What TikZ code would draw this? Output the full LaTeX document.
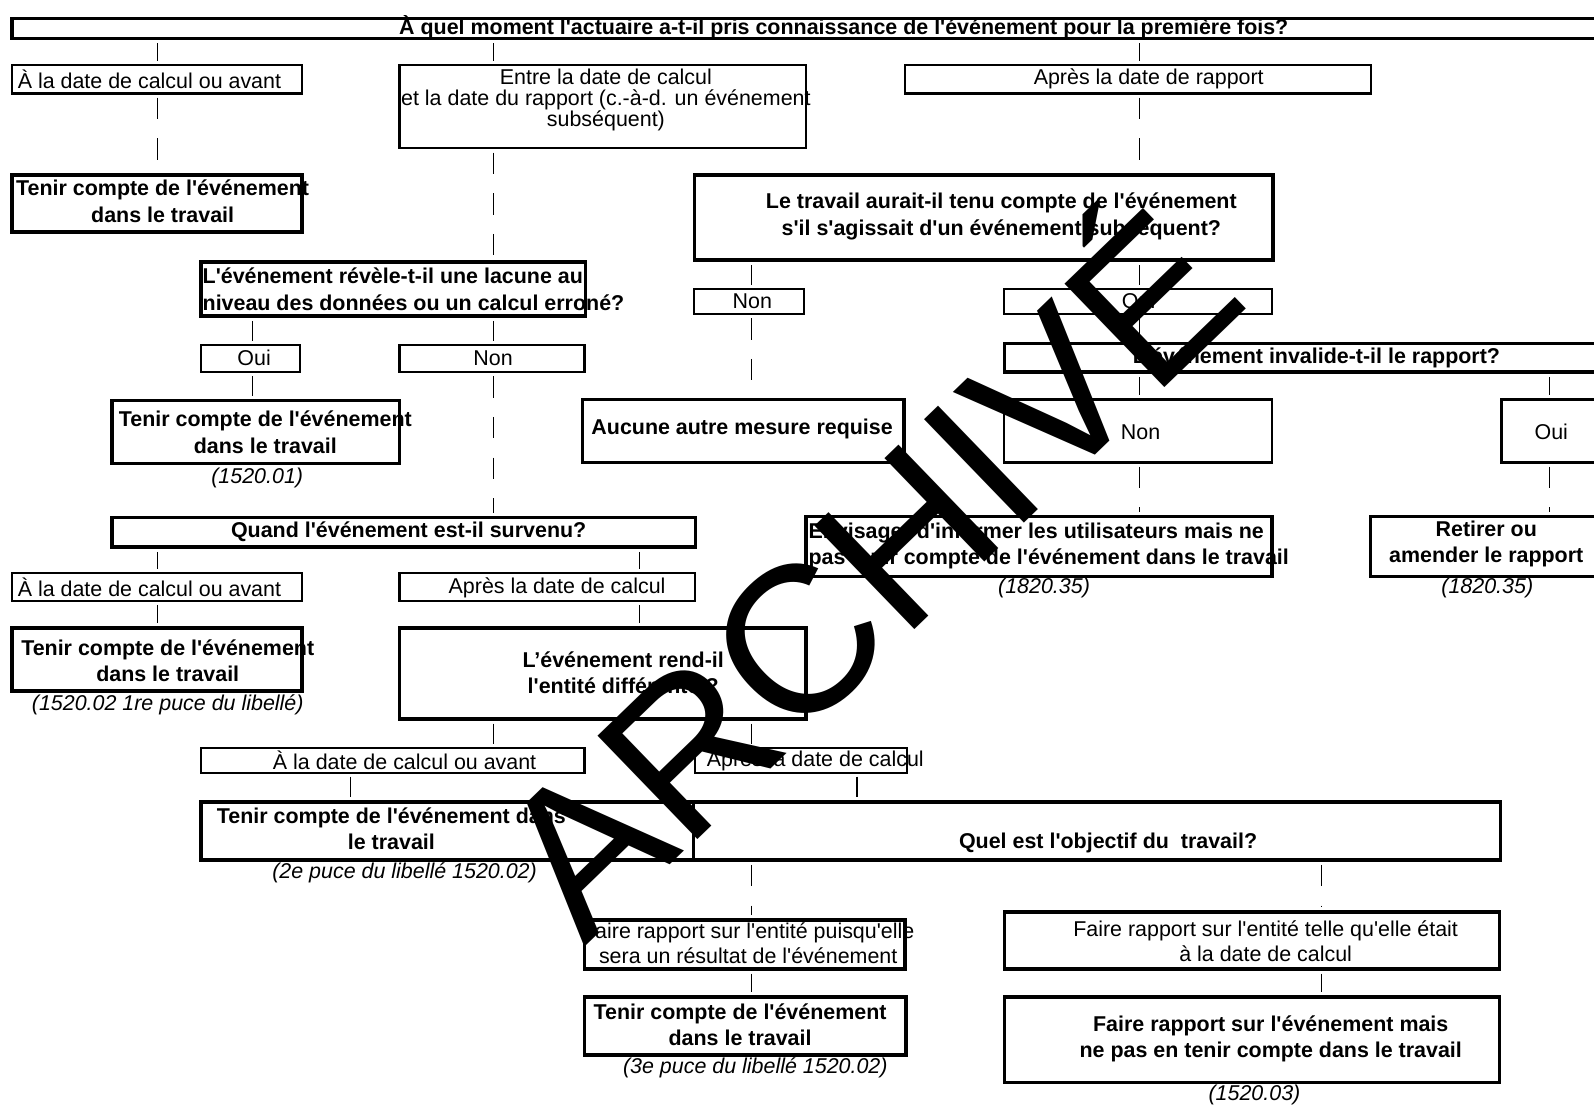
\documentclass[tikz,border=0pt]{standalone}
\usepackage{fontspec}
\newfontfamily\arialfont{Liberation Sans}

\tikzset{
  box/.style={draw, line width=1.2pt, inner sep=0pt},
  bigbox/.style={draw, line width=2pt, inner sep=0pt},
  wh/.style 2 args={minimum width=#1*0.02cm, minimum height=#2*0.02cm},
  txt/.style={inner sep=0pt, align=center, font=\arialfont\fontsize{12}{14.8}\selectfont},
  btxt/.style={txt, font=\arialfont\fontsize{12}{14.8}\selectfont\bfseries},
  ref/.style={inner sep=0pt, font=\arialfont\fontsize{12}{14.8}\selectfont\itshape},
  link/.style={line width=0.6pt, shorten <=0.06cm, shorten >=0.06cm, dash pattern=on 0.42cm off 0.38cm},
}

\begin{document}
\begin{tikzpicture}[x=0.02cm, y=-0.02cm]
\useasboundingbox (0,0) rectangle (1568,1091);

% colonnes des liens
\coordinate (colA) at (155,0);
\coordinate (colOui) at (248,0);
\coordinate (colF) at (345,0);
\coordinate (colNon) at (485,0);
\coordinate (colC) at (629,0);
\coordinate (colG) at (739,0);
\coordinate (colE) at (843,0);
\coordinate (colR) at (1121,0);
\coordinate (colH) at (1300,0);
\coordinate (colI) at (1524,0);

% boites
\node[bigbox, wh={1568}{20}] (top) at (796,28) {};
\node[box, wh={285}{28}] (a1) at (154.5,78) {};
\node[box, wh={400}{82}] (a2) at (593,105) {};
\node[box, wh={459}{28}] (a3) at (1119.5,78) {};
\node[bigbox, wh={285}{56}] (b1) at (154.5,200) {};
\node[bigbox, wh={378}{53}] (q2) at (387,284.5) {};
\node[bigbox, wh={569}{84}] (q3) at (967.5,214) {};
\node[box, wh={97}{27}] (oui2) at (246.5,352.5) {};
\node[box, wh={182}{27}] (nq2) at (484,352.5) {};
\node[box, wh={108}{25}] (non3) at (737,296.5) {};
\node[box, wh={263}{25}] (oui3) at (1119.5,296.5) {};
\node[bigbox, wh={592}{28}] (q4) at (1284,352) {};
\node[bigbox, wh={316}{62}] (aucune) at (731,424) {};
\node[box, wh={263}{62}] (non4) at (1119.5,424) {};
\node[box, wh={94}{62}] (oui4) at (1524,424) {};
\node[bigbox, wh={283}{62}] (b2) at (251.5,425) {};
\node[bigbox, wh={574}{29}] (q5) at (397,523.5) {};
\node[box, wh={285}{27}] (c1) at (154.5,577.5) {};
\node[box, wh={291}{27}] (c2) at (538.5,577.5) {};
\node[bigbox, wh={285}{62}] (d1) at (154.5,649) {};
\node[bigbox, wh={400}{89}] (q6) at (593,662.5) {};
\node[box, wh={377}{24}] (e1) at (386.5,748) {};
\node[box, wh={208}{24}] (e2) at (788,748) {};
\node[bigbox, wh={484}{57}] (f1) at (440,817.5) {};
\node[bigbox, wh={794}{57}] (f2) at (1079,817.5) {};
\node[bigbox, wh={315}{48}] (g1) at (732.5,929) {};
\node[bigbox, wh={487}{56}] (g2) at (1231.5,925) {};
\node[bigbox, wh={316}{57}] (h1) at (733,1009.5) {};
\node[bigbox, wh={487}{84}] (h2) at (1231.5,1023) {};
\node[bigbox, wh={458}{59}] (i1) at (1022,537.5) {};
\node[bigbox, wh={232}{59}] (i2) at (1464,537.5) {};

% textes
\node[btxt] (topt) at (830,27) {À quel moment l'actuaire a-t-il pris connaissance de l'événement pour la première fois?};
\node[txt] (a1t) at (147,78) {À la date de calcul ou avant};
\node[txt, font=\arialfont\fontsize{12}{11.7}\selectfont] (a2t) at (596,98) {Entre la date de calcul\\et la date du rapport (c.-à-d. un événement\\subséquent)};
\node[txt] (a3t) at (1130,78) {Après la date de rapport};
\node[btxt] (b1t) at (160,198) {Tenir compte de l'événement\\dans le travail};
\node[btxt, align=left, anchor=west] (q2t) at (199,284.5) {L'événement révèle-t-il une lacune au\\niveau des données ou un calcul erroné?};
\node[btxt] (q3t) at (985,213) {Le travail aurait-il tenu compte de l'événement\\s'il s'agissait d'un événement subséquent?};
\node[txt] (oui2t) at (250,352) {Oui};
\node[txt] (nq2t) at (485,352) {Non};
\node[txt] (non3t) at (740,296) {Non};
\node[txt] (oui3t) at (1120,296) {Oui};
\node[btxt] (q4t) at (1295,352) {L'événement invalide-t-il le rapport?};
\node[btxt] (aucunet) at (730,422) {Aucune autre mesure requise};
\node[txt] (non4t) at (1122,425) {Non};
\node[txt] (oui4t) at (1526,425) {Oui};
\node[btxt] (b2t) at (261,425) {Tenir compte de l'événement\\dans le travail};
\node[ref] (b2r) at (253,470) {(1520.01)};
\node[btxt] (q5t) at (402,523) {Quand l'événement est-il survenu?};
\node[txt] (c1t) at (147,578) {À la date de calcul ou avant};
\node[txt] (c2t) at (548,578) {Après la date de calcul};
\node[btxt] (d1t) at (165,650) {Tenir compte de l'événement\\dans le travail};
\node[ref] (d1r) at (165,693) {(1520.02 1re puce du libellé)};
\node[btxt] (q6t) at (613,662) {L’événement rend-il\\l'entité différente ?};
\node[txt] (e1t) at (398,748) {À la date de calcul ou avant};
\node[txt, anchor=west] (e2t) at (695,748) {Après la date de calcul};
\node[btxt] (f1t) at (385,815) {Tenir compte de l'événement dans\\le travail};
\node[btxt] (f2t) at (1090,829) {Quel est l'objectif du\ \ travail?};
\node[ref] (f1r) at (398,859) {(2e puce du libellé 1520.02)};
\node[txt, font=\arialfont\fontsize{12}{13.7}\selectfont] (g1t) at (736,928) {Faire rapport sur l'entité puisqu'elle\\sera un résultat de l'événement};
\node[txt, font=\arialfont\fontsize{12}{13.7}\selectfont] (g2t) at (1245,926) {Faire rapport sur l'entité telle qu'elle était\\à la date de calcul};
\node[btxt] (h1t) at (728,1008) {Tenir compte de l'événement\\dans le travail};
\node[ref] (h1r) at (743,1050) {(3e puce du libellé 1520.02)};
\node[btxt] (h2t) at (1250,1022) {Faire rapport sur l'événement mais\\ne pas en tenir compte dans le travail};
\node[ref] (h2r) at (1234,1077) {(1520.03)};
\node[btxt, align=left, anchor=west] (i1t) at (795,537) {Envisager d'informer les utilisateurs mais ne\\pas tenir compte de l'événement dans le travail};
\node[ref] (i1r) at (1027,578) {(1820.35)};
\node[btxt] (i2t) at (1462,535) {Retirer ou\\amender le rapport};
\node[ref] (i2r) at (1463,578) {(1820.35)};

% liens
\draw[link] (top.south -| colA) -- (a1.north -| colA);
\draw[link] (top.south -| colNon) -- (a2.north -| colNon);
\draw[link] (top.south -| colR) -- (a3.north -| colR);
\draw[link] (a1.south -| colA) -- (b1.north -| colA);
\draw[link] (a2.south -| colNon) -- (q2.north -| colNon);
\draw[link] (a3.south -| colR) -- (q3.north -| colR);
\draw[link] (q2.south -| colOui) -- (oui2.north -| colOui);
\draw[link] (q2.south -| colNon) -- (nq2.north -| colNon);
\draw[link] (q3.south -| colG) -- (non3.north -| colG);
\draw[link] (q3.south -| colR) -- (oui3.north -| colR);
\draw[link] (oui3.south -| colR) -- (q4.north -| colR);
\draw[link] (non3.south -| colG) -- (aucune.north -| colG);
\draw[link] (q4.south -| colR) -- (non4.north -| colR);
\draw[link] (q4.south -| colI) -- (oui4.north -| colI);
\draw[link] (oui2.south -| colOui) -- (b2.north -| colOui);
\draw[link] (nq2.south -| colNon) -- (q5.north -| colNon);
\draw[link] (q5.south -| colA) -- (c1.north -| colA);
\draw[link] (q5.south -| colC) -- (c2.north -| colC);
\draw[link] (c1.south -| colA) -- (d1.north -| colA);
\draw[link] (c2.south -| colC) -- (q6.north -| colC);
\draw[link] (q6.south -| colNon) -- (e1.north -| colNon);
\draw[link] (q6.south -| colG) -- (e2.north -| colG);
\draw[link] (e1.south -| colF) -- (f1.north -| colF);
\draw[link] (e2.south -| colE) -- (f2.north -| colE);
\draw[link] (f2.south -| colG) -- (g1.north -| colG);
\draw[link] (f2.south -| colH) -- (g2.north -| colH);
\draw[link] (g1.south -| colG) -- (h1.north -| colG);
\draw[link] (g2.south -| colH) -- (h2.north -| colH);
\draw[link] (non4.south -| colR) -- (i1.north -| colR);
\draw[link] (oui4.south -| colI) -- (i2.north -| colI);

% filigrane
\node[inner sep=0pt, anchor=base, rotate=44, font=\arialfont\fontsize{117}{117}\selectfont] (wm) at (904,615) {ARCHIVÉ};
\end{tikzpicture}
\end{document}
